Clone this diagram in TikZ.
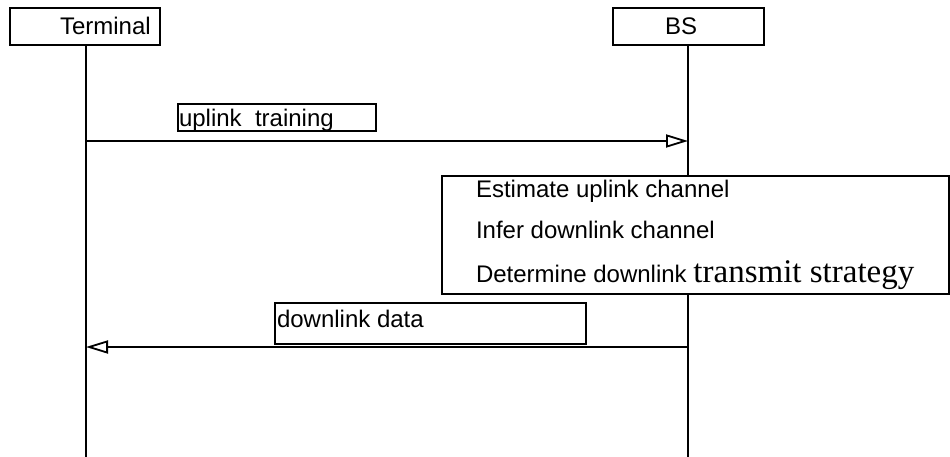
\documentclass[tikz,border=0pt]{standalone}
\usepackage{fontspec}
\setmainfont{Liberation Sans}
\newfontfamily\serifpart{Liberation Serif}
\usetikzlibrary{arrows.meta}
\begin{document}
\begin{tikzpicture}[x=1pt,y=-1pt,
  every node/.style={inner sep=0pt, outer sep=0pt},
  boxstyle/.style={draw, line width=1.5pt, fill=white, anchor=north west},
  txt/.style={anchor=base west, font=\fontsize{24}{28}\selectfont},
  lifeline/.style={line width=1.3pt},
  msg/.style={line width=1.3pt, -{Triangle[open, length=22pt, width=13pt, line width=1.8pt]}}
]
\useasboundingbox (0,0) rectangle (950,457);
% actor boxes
\node[boxstyle, minimum width=150pt, minimum height=37pt] (term) at (10,8) {};
\node[txt] (termtxt) at (60,35) {Terminal};
\node[boxstyle, minimum width=151pt, minimum height=37pt] (bs) at (613,8) {};
\node[txt] (bstxt) at (665,35) {BS};
% lifelines
\coordinate (termend) at (86,457);
\coordinate (bsend) at (688,457);
\draw[lifeline] (86,45) -- (termend);
\draw[lifeline] (688,45) -- (bsend);
% uplink message
\coordinate (ulA) at (86,141);
\coordinate (ulB) at (688,141);
\draw[msg] (ulA) -- (ulB);
\node[boxstyle, minimum width=198pt, minimum height=27pt] (ulbox) at (178,104) {};
\node[txt] (ultxt) at (179,126.5) {uplink\ \ training};
% process box
\node[boxstyle, minimum width=507pt, minimum height=118pt] (proc) at (442,176) {};
\node[txt] (p1) at (476,197) {Estimate uplink channel};
\node[txt] (p2) at (476,238) {Infer downlink channel};
\node[txt] (p3) at (476,282) {Determine downlink {\serifpart\fontsize{33}{38}\selectfont transmit strategy}};
% downlink message
\coordinate (dlA) at (688,347);
\coordinate (dlB) at (86,347);
\draw[msg] (dlA) -- (dlB);
\node[boxstyle, minimum width=311pt, minimum height=41pt] (dlbox) at (275,303) {};
\node[txt] (dltxt) at (277,327) {downlink data};
\end{tikzpicture}
\end{document}
